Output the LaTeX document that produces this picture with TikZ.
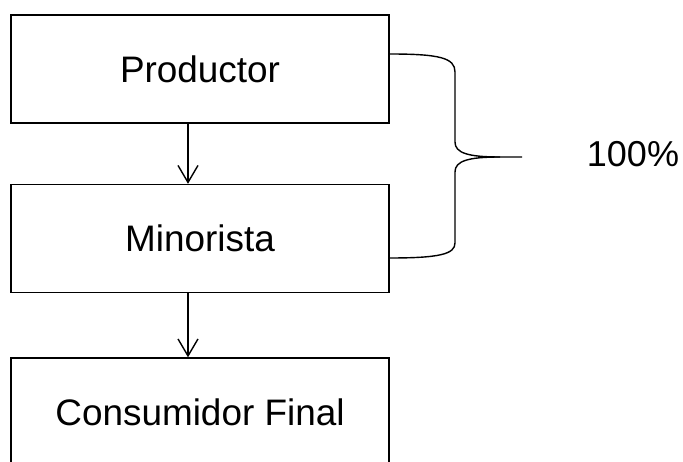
\documentclass[tikz,border=0pt]{standalone}
\usepackage{fontspec}
\setmainfont{Liberation Sans}
\usepackage{tikz}
\usetikzlibrary{arrows.meta,calc}
\tikzstyle{box}=[rectangle,draw=black,line width=0.8pt,minimum width=7.56cm,minimum height=2.16cm,inner sep=0pt,font=\fontsize{21}{25}\selectfont]
\tikzstyle{edge} = [draw,line width=0.8pt,-{Straight Barb[length=0.34cm,width=0.4cm]}]
\tikzstyle{brace} = [draw,line width=0.8pt]
\tikzstyle{share} = [font=\fontsize{20.5}{24}\selectfont]

\begin{document}
\begin{tikzpicture}[x=0.02cm, y=-0.02cm]
    \useasboundingbox (0,0) rectangle (683,462);
    % the three boxes of the chain
    \foreach \pos/\name/\label in {{(200,69)/prod/Productor}, {(200,238.5)/mino/Minorista}, {(200,412)/cons/Consumidor Final}}
        \node[box] (\name) at \pos {\label};

    % arrows between the boxes
    \foreach \source/\dest in {prod/mino, mino/cons}
        \path[edge] (\source.south -| 188,0) -- (\dest.north -| 188,0);

    % brace over the first two boxes
    \coordinate (btop) at (prod.east |- 0,54);
    \coordinate (bbot) at (mino.east |- 0,258);
    \coordinate (tip) at (522,157);
    \node[share] (pct) at (633,154) {100\%};
    \path[brace] (btop) .. controls (440,54) and (455,58) .. (455,72) -- (455,142)
        .. controls (455,153) and (468,157) .. (500,157) -- (tip);
    \path[brace] (500,157) .. controls (468,157) and (455,161) .. (455,172) -- (455,243)
        .. controls (455,254) and (440,258) .. (bbot);
\end{tikzpicture}
\end{document}
